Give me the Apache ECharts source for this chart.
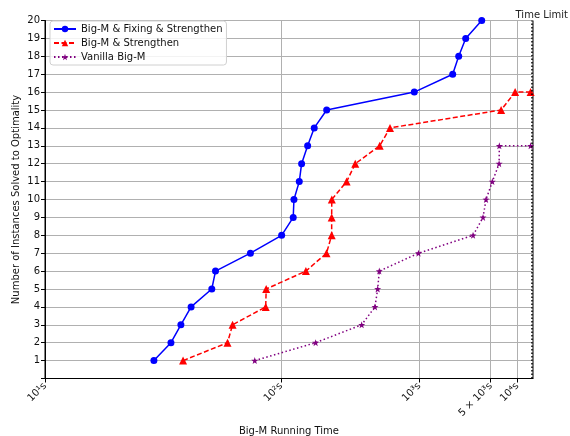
<!DOCTYPE html>
<html><head><meta charset="utf-8">
<script src="https://cdn.jsdelivr.net/npm/echarts@6/dist/echarts.min.js"></script>
<style>html,body{margin:0;padding:0;background:#fff}#c{width:570px;height:436px}</style>
</head><body><div id="c"></div>
<script>
// Instances solved (y) and running times in seconds (x)
const countsFS = [1,2,3,4,5,6,7,8,9,10,11,12,13,14,15,16,17,18,19,20];
const timesFS  = [23.8,28.0,30.9,34.3,42.8,44.6,67.2,100.6,118,119.2,128.5,132.9,145,159.8,193,903,2034,2329,2736,4004];
const countsS  = [1,2,3,4,5,6,7,8,9,10,11,12,13,14,15,16,16];
const timesS   = [31.6,51.1,54.2,81.5,82,141.3,192.4,208.6,208.6,209,265.2,305.8,468,565.3,6508,9405,14400];
const countsV  = [1,2,3,4,5,6,7,8,9,10,11,12,13,13];
const timesV   = [70.9,163.2,341,430.2,451.4,464.7,982.4,3249,4133,4449,5204,6182,6216,14400];
const TIME_LIMIT = 14400;
const X_MIN = 10, X_MAX = 15400;
const tickValues = [10,100,1000,5000,10000];
const tickLabels = ['10\u00b9s','10\u00b2s','10\u00b3s','5 \u00d7 10\u00b3s','10\u2074s'];
const seriesNames = ['Big-M & Fixing & Strengthen','Big-M & Strengthen','Vanilla Big-M'];

// axis transform (double-log scale as in the reference)
const f = t => Math.log10(Math.log10(t));
const pairs = (xs, ys) => xs.map((x, i) => [f(x), ys[i]]);
const tickPos = tickValues.map(f);
const font = 'DejaVu Sans';

const chart = echarts.init(document.getElementById('c'));
chart.setOption({
  animation: false,
  textStyle: {fontFamily: font},
  grid: {left: 45, right: 37, top: 20.5, bottom: 57.5, show: true, borderColor: '#000', borderWidth: 1,
         containLabel: false, outerBoundsMode: 'none'},
  title: {text: 'Time Limit', right: 2, top: 10, padding: 0, textStyle: {fontFamily: font, fontSize: 10, fontWeight: 'normal', color: '#222'}},
  legend: {
    orient: 'vertical', left: 50, top: 21, itemGap: 4, itemWidth: 22, itemHeight: 8,
    backgroundColor: 'rgba(255,255,255,0.85)', borderColor: '#d0d0d0', borderWidth: 1, borderRadius: 3,
    padding: [3, 4, 3, 3],
    textStyle: {fontFamily: font, fontSize: 10, color: '#111'},
    data: seriesNames
  },
  xAxis: {
    type: 'value', min: f(X_MIN), max: f(X_MAX),
    name: 'Big-M Running Time', nameLocation: 'middle', nameGap: 48, nameMoveOverlap: false,
    nameTextStyle: {fontFamily: font, fontSize: 10, color: '#111'},
    axisLine: {lineStyle: {color: '#000'}},
    axisTick: {customValues: tickPos, length: 4, lineStyle: {color: '#000'}},
    axisLabel: {
      customValues: tickPos, rotate: 45, fontFamily: font, fontSize: 10, color: '#111', margin: 6,
      formatter: v => { let best = 0; tickPos.forEach((p, i) => { if (Math.abs(p - v) < Math.abs(tickPos[best] - v)) best = i; }); return tickLabels[best]; }
    },
    splitLine: {show: true, lineStyle: {color: '#b0b0b0', width: 1}}
  },
  yAxis: {
    type: 'value', min: 0, max: 20, interval: 1,
    name: 'Number of Instances Solved to Optimality', nameLocation: 'middle', nameGap: 24, nameMoveOverlap: false,
    nameTextStyle: {fontFamily: font, fontSize: 10, color: '#111'},
    axisLine: {show: true, lineStyle: {color: '#000'}},
    axisTick: {show: true, length: 4, lineStyle: {color: '#000'}},
    axisLabel: {fontFamily: font, fontSize: 10, color: '#111', margin: 5, formatter: v => v === 0 ? '' : String(v)},
    splitLine: {show: true, lineStyle: {color: '#b0b0b0', width: 1}}
  },
  series: [
    {
      name: seriesNames[0], type: 'line', data: pairs(timesFS, countsFS),
      symbol: 'circle', symbolSize: 7, itemStyle: {color: '#0000ff'},
      lineStyle: {color: '#0000ff', width: 1.5, type: 'solid'}, z: 5
    },
    {
      name: seriesNames[1], type: 'line', data: pairs(timesS, countsS),
      symbol: 'triangle', symbolSize: 8, itemStyle: {color: '#ff0000'},
      lineStyle: {color: '#ff0000', width: 1.5, type: [5, 2.5]}, z: 4,
      markLine: {
        silent: true, symbol: 'none', label: {show: false},
        lineStyle: {color: '#000', type: [1.5, 2], width: 1.5},
        data: [{xAxis: f(TIME_LIMIT)}]
      }
    },
    {
      name: seriesNames[2], type: 'line', data: pairs(timesV, countsV),
      symbol: 'path://M0,-10 L2.35,-3.24 L9.51,-3.09 L3.8,1.24 L5.88,8.09 L0,4 L-5.88,8.09 L-3.8,1.24 L-9.51,-3.09 L-2.35,-3.24 Z',
      symbolSize: 7, itemStyle: {color: '#800080'},
      lineStyle: {color: '#800080', width: 1.5, type: [1.5, 2.5]}, z: 3
    }
  ]
});
</script></body></html>
